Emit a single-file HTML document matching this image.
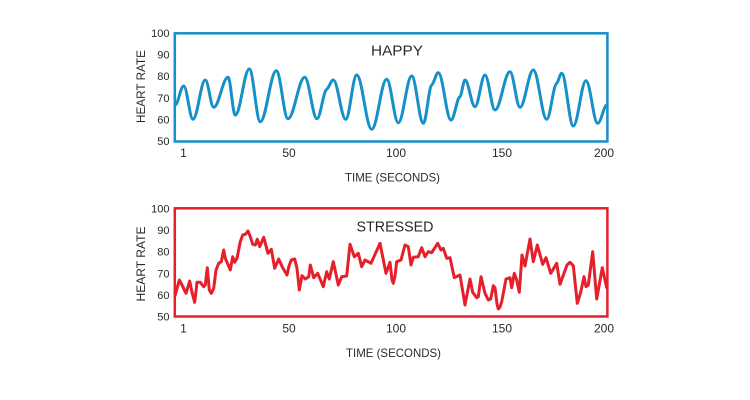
<!DOCTYPE html>
<html>
<head>
<meta charset="utf-8">
<style>
  html, body { margin: 0; padding: 0; background: #ffffff; }
  body { width: 750px; height: 400px; overflow: hidden; }
  svg { display: block; }
  text { font-family: "Liberation Sans", "DejaVu Sans", sans-serif; fill: #2a2a2a; }
</style>
</head>
<body>
<svg width="750" height="400" viewBox="0 0 750 400" xmlns="http://www.w3.org/2000/svg">
  <rect x="0" y="0" width="750" height="400" fill="#ffffff"/>

  <!-- ===== TOP CHART (HAPPY) ===== -->
  <rect x="174.8" y="33.3" width="432.6" height="108.2" fill="none" stroke="#1590c9" stroke-width="2.5"/>
  <path fill="none" stroke="#1590c9" stroke-width="3" stroke-linecap="round" stroke-linejoin="round"
    d="M175,105
       C178.2,105 180.5,86 183.7,86
       C187.1,86 189.6,119.3 193,119.3
       C197.5,119.3 200.8,80 205.3,80
       C208.4,80 210.6,107.3 213.7,107.3
       C218.9,107.3 222.8,77.3 228,77.3
       C230.7,77.3 232.6,115 235.3,115
       C240.4,115 244.2,69 249.3,69
       C253.3,69 256.3,121.7 260.3,121.7
       C266.1,121.7 270.5,70.7 276.3,70.7
       C280.6,70.7 283.7,118.7 288,118.7
       C294.1,118.7 298.6,77.3 304.7,77.3
       C309.2,77.3 312.5,118.7 317,118.7
       C320.5,118.7 323.2,91 326.7,89.3
       C329.1,88 330.9,80 333.3,80
       C337.8,80 341.2,119.3 345.7,119.3
       C349.7,119.3 352.7,75 356.7,75
       C362.2,75 366.2,129.3 371.7,129.3
       C377.2,129.3 381.2,79.3 386.7,79.3
       C390.9,79.3 394.1,122.7 398.3,122.7
       C403.2,122.7 406.8,76 411.7,76
       C415.9,76 419.1,123.3 423.3,123.3
       C426.4,123.3 428.6,87 431.7,85
       C434.1,83.5 435.9,72.7 438.3,72.7
       C442.9,72.7 446.4,120 451,120
       C454.3,120 456.7,98 460,96.7
       C461.8,95.5 463.2,80 465,80
       C468.6,80 471.4,106.7 475,106.7
       C478.6,106.7 481.4,75 485,75
       C488.6,75 491.4,110 495,110
       C500.5,110 504.5,71.7 510,71.7
       C513.6,71.7 516.4,107.3 520,107.3
       C524.8,107.3 528.5,70 533.3,70
       C538.2,70 541.8,119.3 546.7,119.3
       C550.3,119.3 553.1,85 556.7,83.3
       C558.5,82 559.9,73.3 561.7,73.3
       C565.9,73.3 569.1,126 573.3,126
       C577.9,126 581.4,80.7 586,80.7
       C590.3,80.7 593.4,123.3 597.7,123.3
       C601.1,123.3 603.6,105 607,105"/>

  <!-- y ticks top -->
  <g font-size="11" text-anchor="end">
    <text x="169.5" y="37">100</text>
    <text x="169.5" y="58.6">90</text>
    <text x="169.5" y="80.2">80</text>
    <text x="169.5" y="101.8">70</text>
    <text x="169.5" y="123.4">60</text>
    <text x="169.5" y="145">50</text>
  </g>
  <!-- x ticks top -->
  <g font-size="12" text-anchor="middle">
    <text x="183.5" y="157">1</text>
    <text x="289" y="157">50</text>
    <text x="396" y="157">100</text>
    <text x="502" y="157">150</text>
    <text x="604" y="157">200</text>
  </g>
  <text x="397" y="55.7" font-size="15" text-anchor="middle" textLength="52" lengthAdjust="spacingAndGlyphs">HAPPY</text>
  <text x="392.5" y="181.5" font-size="12" text-anchor="middle" textLength="95" lengthAdjust="spacingAndGlyphs">TIME (SECONDS)</text>
  <text transform="translate(145,86.5) rotate(-90)" font-size="12" text-anchor="middle" textLength="73" lengthAdjust="spacingAndGlyphs">HEART RATE</text>

  <!-- ===== BOTTOM CHART (STRESSED) ===== -->
  <rect x="174.8" y="208.3" width="432.6" height="108.2" fill="none" stroke="#e5202b" stroke-width="2.5"/>
  <polyline fill="none" stroke="#e5202b" stroke-width="3" stroke-linecap="round" stroke-linejoin="round"
    points="175.3,295 179.3,280 182,285 186,293.3 189.7,281 192,292.3 194.7,302.3 197,282.3 200.3,282.3 203.7,286.7 205.3,285 207.3,267.7 209.3,290 211.3,293.3 213.7,288.3 216,270 218.7,263.3 221.3,261.7 223.7,250 225.3,258.3 230.3,270 232.7,256.7 234.7,262.3 237,258.3 240.3,241.7 242.7,235 245.3,234.3 248,231 250.3,236.7 252.7,244.3 255.3,245 257.3,239.3 259.7,246.7 263.7,237.3 268,253.3 271.3,249.3 274.7,268.3 278.7,259 282.7,267.7 287,275 289,266 291.3,260 294.7,259 297,268.3 299.3,290 302,275.7 305.3,279 308.7,276.7 310.3,265 313.7,277.7 317.7,273.3 323.3,286.7 326.7,271.7 329.3,279 333.3,261.7 338.3,285 341.7,276.7 346.7,276 350,244.3 354.3,256.7 358.3,253.3 361.7,266.7 365,260 371,263.3 380,243.3 386,273.3 390,262.3 392,280 393.3,283.3 395,276 396.7,261.7 401,260 405,245 408.3,246.7 411,265 413.3,257.3 418.3,256.7 421.7,247.7 425,256.7 428.3,251.7 431.7,252.7 437.7,243.3 441,250 443.3,248.3 446.7,258.3 450,257.7 454.3,277.7 460,275 465,305 470,279 472.7,292.3 476.7,297.7 478.3,296.7 481,276.7 485,293.3 488.3,300 490.7,299 493.3,285.7 495,287.7 497,304 498.3,309 500,307 501.7,301.7 506,279 510,277.7 511.7,287.7 514.3,273.3 516.7,280 519.3,292.3 522,255 525,266 530,239 533.3,261.7 537.3,245 542.7,264.3 546,257.7 550.7,273.3 553.3,269 556.7,263.3 560,284.3 564,273.3 567,265 570,262.3 573.3,265.7 577.3,303.3 580.7,292.3 584,276.7 586,286.7 588.3,285 592.7,251.7 596.7,299 602.3,267.7 606.7,287.7"/>

  <!-- y ticks bottom -->
  <g font-size="11" text-anchor="end">
    <text x="169.5" y="212.5">100</text>
    <text x="169.5" y="234.1">90</text>
    <text x="169.5" y="255.7">80</text>
    <text x="169.5" y="277.3">70</text>
    <text x="169.5" y="298.9">60</text>
    <text x="169.5" y="320.5">50</text>
  </g>
  <!-- x ticks bottom -->
  <g font-size="12" text-anchor="middle">
    <text x="183.5" y="332.5">1</text>
    <text x="289" y="332.5">50</text>
    <text x="396" y="332.5">100</text>
    <text x="502" y="332.5">150</text>
    <text x="604" y="332.5">200</text>
  </g>
  <text x="395" y="231.5" font-size="15" text-anchor="middle" textLength="77" lengthAdjust="spacingAndGlyphs">STRESSED</text>
  <text x="393.5" y="357" font-size="12" text-anchor="middle" textLength="95" lengthAdjust="spacingAndGlyphs">TIME (SECONDS)</text>
  <text transform="translate(145,264) rotate(-90)" font-size="12" text-anchor="middle" textLength="75" lengthAdjust="spacingAndGlyphs">HEART RATE</text>
</svg>
</body>
</html>
